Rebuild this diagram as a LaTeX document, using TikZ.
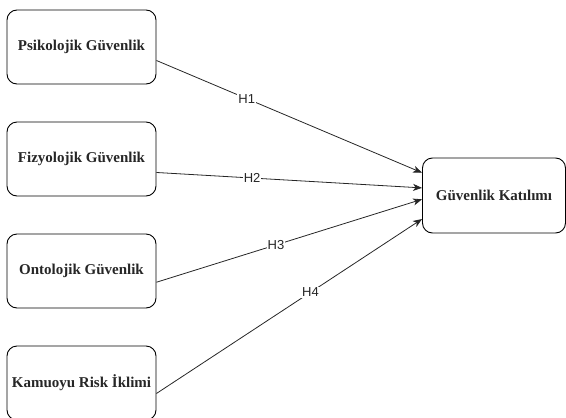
\documentclass[tikz,border=0pt]{standalone}
\usepackage{fontspec}
\setmainfont{Liberation Serif}
\newfontfamily\lblfont{Liberation Sans}
\usetikzlibrary{arrows.meta,calc}
\begin{document}
\begin{tikzpicture}[x=1pt,y=-1pt,
  boxst/.style={draw=black,line width=0.9pt,rounded corners=10pt,minimum width=149pt,minimum height=74pt,inner sep=0pt,font=\fontsize{15}{17}\selectfont\bfseries,text=black!85},
  tgtst/.style={boxst,minimum width=143pt,minimum height=75pt},
  conn/.style={draw=black!85,line width=0.8pt,-{Stealth[length=9pt,width=7pt,inset=2.5pt]}},
  lbl/.style={fill=white,inner sep=1pt,font=\lblfont\fontsize{13}{14}\selectfont,text=black!85}]
\useasboundingbox (0,0) rectangle (566,418);
\node[boxst] (b1) at (81.5,47) {Psikolojik Güvenlik};
\node[boxst] (b2) at (81.5,159) {Fizyolojik Güvenlik};
\node[boxst] (b3) at (81.5,271) {Ontolojik Güvenlik};
\node[boxst] (b4) at (81.5,383) {Kamuoyu Risk İklimi};
\node[tgtst] (t) at (494,195.5) {Güvenlik Katılımı};
\coordinate (s1) at ($(b1.north east)!0.68!(b1.south east)$);
\coordinate (s2) at ($(b2.north east)!0.68!(b2.south east)$);
\coordinate (s3) at ($(b3.north east)!0.65!(b3.south east)$);
\coordinate (s4) at ($(b4.north east)!0.64!(b4.south east)$);
\coordinate (e1) at ($(t.north west)!0.20!(t.south west)$);
\coordinate (e2) at ($(t.north west)!0.40!(t.south west)$);
\coordinate (e3) at ($(t.north west)!0.55!(t.south west)$);
\coordinate (e4) at ($(t.north west)!0.81!(t.south west)$);
\draw[conn] (s1) -- node[lbl,pos=0.34] {H1} (e1);
\draw[conn] (s2) -- node[lbl,pos=0.36] {H2} (e2);
\draw[conn] (s3) -- node[lbl,pos=0.45] {H3} (e3);
\draw[conn] (s4) -- node[lbl,pos=0.58] {H4} (e4);
\end{tikzpicture}
\end{document}
